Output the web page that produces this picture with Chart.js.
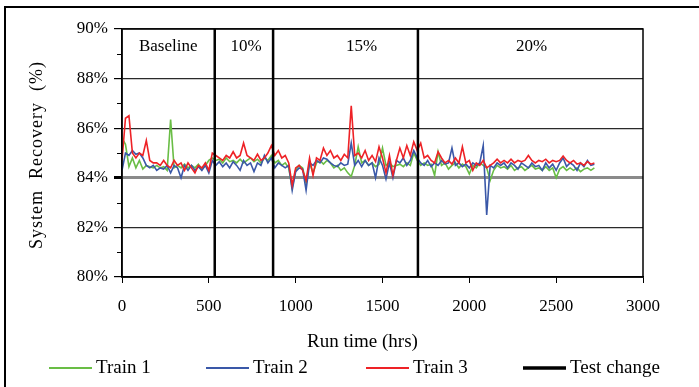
<!DOCTYPE html>
<html>
<head>
<meta charset="utf-8">
<script src="https://cdn.jsdelivr.net/npm/chart.js@4.4.0/dist/chart.umd.min.js"></script>
<style>
  html, body { margin: 0; padding: 0; background: #fff; }
  #wrap { width: 699px; height: 387px; }
</style>
</head>
<body>
<div id="wrap"><canvas id="recoveryChart" width="699" height="387"></canvas></div>
<script>
// Run time (hrs) of each sample
const runHours = [
    0, 20, 40, 60, 80, 100, 120, 140, 160, 180,
    200, 220, 240, 260, 280, 300, 320, 340, 360, 380,
    400, 420, 440, 460, 480, 500, 520, 540, 560, 580,
    600, 620, 640, 660, 680, 700, 720, 740, 760, 780,
    800, 820, 840, 860, 880, 900, 920, 940, 960, 980,
    1000, 1020, 1040, 1060, 1080, 1100, 1120, 1140, 1160, 1180,
    1200, 1220, 1240, 1260, 1280, 1300, 1320, 1340, 1360, 1380,
    1400, 1420, 1440, 1460, 1480, 1500, 1520, 1540, 1560, 1580,
    1600, 1620, 1640, 1660, 1680, 1700, 1720, 1740, 1760, 1780,
    1800, 1820, 1840, 1860, 1880, 1900, 1920, 1940, 1960, 1980,
    2000, 2020, 2040, 2060, 2080, 2100, 2120, 2140, 2160, 2180,
    2200, 2220, 2240, 2260, 2280, 2300, 2320, 2340, 2360, 2380,
    2400, 2420, 2440, 2460, 2480, 2500, 2520, 2540, 2560, 2580,
    2600, 2620, 2640, 2660, 2680, 2700, 2720
];

// System recovery (%)
const train1 = [
    85.6, 85.35, 84.45, 84.8, 84.4, 84.7, 84.35, 84.5, 84.45, 84.4,
    84.5, 84.4, 84.45, 84.3, 86.35, 84.4, 84.5, 84.4, 84.55, 84.4,
    84.5, 84.4, 84.55, 84.35, 84.5, 84.7, 84.8, 84.7, 84.75, 84.6,
    84.8, 84.65, 84.7, 84.6, 84.75, 84.6, 84.7, 84.8, 84.65, 84.75,
    84.6, 84.8, 84.7, 84.9, 84.6, 84.7, 84.5, 84.6, 84.4, 83.6,
    84.3, 84.5, 84.4, 83.8, 84.6, 84.2, 84.6, 84.7, 84.55, 84.7,
    84.6, 84.4, 84.5, 84.3, 84.4, 84.2, 84.05, 84.5, 85.25, 84.6,
    84.7, 84.5, 84.6, 84.45, 84.55, 85.2, 84.5, 84.6, 84.45, 84.5,
    84.55, 84.45, 84.6, 84.5, 85.0, 84.7, 84.5, 84.6, 84.5, 84.55,
    84.1, 85.05, 84.5, 84.6, 84.35, 84.5, 84.6, 84.4, 84.55, 84.45,
    84.15, 84.5, 84.4, 84.6, 84.5, 84.4, 83.9, 84.3, 84.5, 84.4,
    84.45, 84.35, 84.5, 84.3, 84.4, 84.45, 84.3, 84.4, 84.5, 84.35,
    84.4, 84.3, 84.45, 84.3, 84.4, 84.0, 84.35, 84.45, 84.3, 84.4,
    84.3, 84.4, 84.25, 84.35, 84.4, 84.3, 84.4
];
const train2 = [
    84.3, 85.0, 84.9, 85.1, 84.95, 85.0, 84.8, 84.5, 84.4, 84.5,
    84.3, 84.4, 84.35, 84.5, 84.2, 84.5, 84.4, 84.0, 84.5, 84.3,
    84.5, 84.3, 84.45, 84.3, 84.5, 84.2, 84.7, 84.5, 84.65, 84.45,
    84.6, 84.4, 84.65, 84.5, 84.3, 84.7, 84.5, 84.6, 84.25, 84.6,
    84.5, 84.9, 84.6, 84.8, 84.4, 84.6, 84.5, 84.4, 84.5, 83.5,
    84.25, 84.4, 84.35, 83.5, 84.6, 84.5, 84.7, 84.6, 84.8, 84.75,
    84.6, 84.5, 84.45, 84.6, 84.5, 84.55, 85.4, 84.5, 84.7, 84.45,
    84.7, 84.5, 84.6, 84.0, 84.8, 84.5, 83.95, 84.6, 84.0, 84.7,
    84.6, 84.8, 84.5, 84.7, 85.1, 84.8, 84.6, 84.5, 84.7, 84.45,
    84.6, 84.5, 84.7, 84.55, 84.6, 85.2, 84.5, 84.6, 84.45, 84.55,
    84.4, 84.6, 84.5, 84.6, 85.3, 82.5, 84.5, 84.4, 84.6, 84.5,
    84.6, 84.4, 84.6, 84.5, 84.35, 84.6, 84.5, 84.4, 84.6, 84.45,
    84.5, 84.3, 84.6, 84.4, 84.55, 84.3, 84.6, 84.8, 84.45, 84.6,
    84.5, 84.3, 84.6, 84.45, 84.7, 84.5, 84.55
];
const train3 = [
    84.7, 86.4, 86.5, 85.0, 84.8, 85.0, 84.9, 85.5, 84.7, 84.6,
    84.6, 84.5, 84.7, 84.5, 84.4, 84.7, 84.5, 84.6, 84.3, 84.6,
    84.4, 84.2, 84.5, 84.4, 84.6, 84.3, 85.0, 84.9, 84.8, 84.7,
    84.9, 84.8, 85.05, 84.8, 84.9, 85.4, 84.9, 84.8, 84.7, 84.95,
    84.7, 84.8, 85.0, 85.3, 84.9, 85.1, 84.8, 84.9, 84.6, 83.7,
    84.4, 84.5, 84.3, 83.9, 84.8, 84.1, 84.8, 84.7, 85.2, 84.9,
    85.1, 84.8, 84.9, 84.7, 84.95, 84.8, 86.9, 84.9, 85.0, 84.8,
    85.1, 84.7, 84.9, 84.65, 85.25, 84.8, 84.2, 84.9, 84.1, 84.7,
    85.2, 84.8, 85.3, 84.9, 85.45, 85.1, 85.4, 84.8, 84.9, 84.7,
    84.6, 85.05, 84.8, 84.6, 84.7, 84.55, 84.8, 84.6, 85.25, 84.6,
    84.7, 84.3, 84.6, 84.5, 84.7, 84.4, 84.5, 84.6, 84.75, 84.6,
    84.7, 84.6, 84.75, 84.6, 84.7, 84.65, 84.7, 84.9, 84.7, 84.6,
    84.7, 84.65, 84.75, 84.6, 84.7, 84.65, 84.7, 84.88, 84.7, 84.6,
    84.7, 84.55, 84.6, 84.5, 84.65, 84.55, 84.6
];

// Test changes (hrs) and the phase labels between them
const testChangeHours = [534, 870, 1704];
const phaseLabels = ['Baseline', '10%', '15%', '20%'];
const phaseLabelHours = [266, 715, 1380, 2359];

const yTicks = [80, 82, 84, 86, 88, 90];
const xTicks = [0, 500, 1000, 1500, 2000, 2500, 3000];

const SERIF = '"Liberation Serif", "Times New Roman", serif';

function toPoints(ys) {
    return runHours.map((h, i) => ({ x: h, y: ys[i] }));
}

// vertical segments, broken with gaps
function testChangePoints() {
    const pts = [];
    testChangeHours.forEach(h => {
        pts.push({ x: h, y: yTicks[0] });
        pts.push({ x: h, y: yTicks[yTicks.length - 1] });
        pts.push({ x: h, y: null });
    });
    return pts;
}

const decorPlugin = {
    id: 'decor',
    beforeDraw(chart) {
        const ctx = chart.ctx;
        ctx.save();
        ctx.fillStyle = '#fff';
        ctx.fillRect(0, 0, chart.width, chart.height);
        // outer frame
        ctx.strokeStyle = '#000';
        ctx.lineWidth = 2;
        ctx.beginPath();
        ctx.moveTo(chart.width, 7);
        ctx.lineTo(5, 7);
        ctx.lineTo(5, chart.height);
        ctx.stroke();
        ctx.restore();
    },
    afterDraw(chart) {
        const ctx = chart.ctx;
        const area = chart.chartArea;
        const xs = chart.scales.x;
        const ys = chart.scales.y;
        ctx.save();

        // plot frame
        ctx.strokeStyle = '#000';
        ctx.lineWidth = 1.5;
        ctx.strokeRect(area.left, area.top, area.right - area.left, area.bottom - area.top);

        // minor y ticks
        ctx.lineWidth = 1;
        for (let v = yTicks[0] + 1; v < yTicks[yTicks.length - 1]; v += 2) {
            const py = Math.round(ys.getPixelForValue(v)) + 0.5;
            ctx.beginPath();
            ctx.moveTo(area.left - 5, py);
            ctx.lineTo(area.left, py);
            ctx.stroke();
        }

        // phase labels
        ctx.fillStyle = '#000';
        ctx.font = '17px ' + SERIF;
        ctx.textAlign = 'center';
        ctx.textBaseline = 'middle';
        phaseLabels.forEach((t, i) => {
            ctx.fillText(t, xs.getPixelForValue(phaseLabelHours[i]), area.top + 18);
        });

        // axis titles
        ctx.font = '19px ' + SERIF;
        ctx.fillText('Run time (hrs)', (area.left + area.right) / 2 - 20, 342);

        ctx.save();
        ctx.translate(37, 155);
        ctx.rotate(-Math.PI / 2);
        ctx.font = '18px ' + SERIF;
        ctx.letterSpacing = '1px';
        ctx.fillText('System  Recovery  (%)', 0, 0);
        ctx.restore();

        // legend
        const lineStarts = [49, 206, 366, 523];
        const ly = 368;
        ctx.font = '19px ' + SERIF;
        ctx.textAlign = 'left';
        chart.data.datasets.forEach((ds, i) => {
            const x0 = lineStarts[i];
            ctx.strokeStyle = ds.borderColor;
            ctx.lineWidth = i === 3 ? 3.5 : 2;
            ctx.beginPath();
            ctx.moveTo(x0, ly);
            ctx.lineTo(x0 + 43, ly);
            ctx.stroke();
            ctx.fillStyle = '#000';
            ctx.fillText(ds.label, x0 + 47, ly);
        });
        ctx.restore();
    }
};

new Chart(document.getElementById('recoveryChart'), {
    type: 'line',
    data: {
        datasets: [
            { label: 'Train 1', data: toPoints(train1), borderColor: '#69bd45', borderWidth: 1.6, order: 3 },
            { label: 'Train 2', data: toPoints(train2), borderColor: '#3a58a8', borderWidth: 1.6, order: 2 },
            { label: 'Train 3', data: toPoints(train3), borderColor: '#ee2226', borderWidth: 1.6, order: 1 },
            { label: 'Test change', data: testChangePoints(), borderColor: '#000', borderWidth: 2.5, order: 0, spanGaps: false }
        ]
    },
    options: {
        responsive: false,
        animation: false,
        events: [],
        layout: { padding: { left: 0, right: 56, top: 29, bottom: 0 } },
        elements: {
            point: { radius: 0 },
            line: { tension: 0, fill: false }
        },
        plugins: {
            legend: { display: false },
            tooltip: { enabled: false }
        },
        scales: {
            x: {
                type: 'linear',
                min: xTicks[0],
                max: xTicks[xTicks.length - 1],
                afterBuildTicks: s => { s.ticks = xTicks.map(v => ({ value: v })); },
                afterFit: s => { s.height = 110; },
                ticks: { color: '#000', font: { family: SERIF, size: 17 }, padding: 13, maxRotation: 0, callback: v => String(v) },
                grid: { drawOnChartArea: false, drawTicks: true, tickLength: 6, tickColor: '#000' },
                border: { display: true, color: '#000', width: 1.5 }
            },
            y: {
                min: yTicks[0],
                max: yTicks[yTicks.length - 1],
                afterBuildTicks: s => { s.ticks = yTicks.map(v => ({ value: v })); },
                afterFit: s => { s.width = 122; },
                ticks: { color: '#000', font: { family: SERIF, size: 17 }, padding: 6, callback: v => v + '%' },
                grid: {
                    color: c => c.tick && c.tick.value === 84 ? '#8a8a8a' : '#2a2a2a',
                    lineWidth: c => c.tick && c.tick.value === 84 ? 3 : 1.2,
                    drawTicks: true,
                    tickLength: 8,
                    tickColor: '#000'
                },
                border: { display: true, color: '#000', width: 1.5 }
            }
        }
    },
    plugins: [decorPlugin]
});
</script>
</body>
</html>
